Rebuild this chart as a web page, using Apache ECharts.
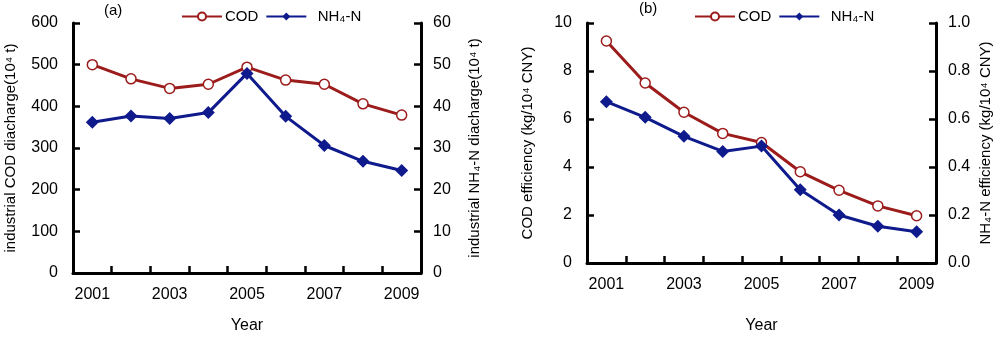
<!DOCTYPE html>
<html>
<head>
<meta charset="utf-8">
<script src="https://cdn.jsdelivr.net/npm/echarts@6/dist/echarts.min.js"></script>
<style>html,body{margin:0;padding:0;background:#fff}#c{width:1000px;height:339px}</style>
</head>
<body>
<div id="c"></div>
<script>
const years = ['2001','2002','2003','2004','2005','2006','2007','2008','2009'];
const codDischarge = [500, 466, 443, 453, 494, 463, 453, 406, 379];
const nh4Discharge = [36.2, 37.7, 37.1, 38.5, 47.9, 37.6, 30.6, 26.8, 24.6];
const codEfficiency = [9.25, 7.5, 6.28, 5.4, 5.02, 3.8, 3.03, 2.38, 1.97];
const nh4Efficiency = [0.672, 0.607, 0.528, 0.465, 0.487, 0.305, 0.2, 0.153, 0.13];
const leftTicksA = [0, 100, 200, 300, 400, 500, 600];
const rightTicksA = [0, 10, 20, 30, 40, 50, 60];
const leftTicksB = [0, 2, 4, 6, 8, 10];
const rightTicksB = [0, 0.2, 0.4, 0.6, 0.8, 1.0];

const RED = '#9c1c1c', BLUE = '#0f1a8c';
const FONT = 'Liberation Sans, Arial, sans-serif';
const chart = echarts.init(document.getElementById('c'));

function xAxis(gridIndex, nameGap) {
  return {
    type: 'category', gridIndex, data: years, boundaryGap: true,
    name: 'Year', nameLocation: 'middle', nameGap,
    nameTextStyle: {fontFamily: FONT, fontSize: 16, color: '#000'},
    axisLine: {show: true, lineStyle: {color: '#000', width: 3}},
    axisTick: {show: true, inside: true, length: 7, lineStyle: {width: 2.5, color: '#000'}, alignWithLabel: false, interval: 0},
    axisLabel: {interval: 1, margin: 14, fontFamily: FONT, fontSize: 16, color: '#000'},
    splitLine: {show: false}
  };
}
function yAxis(gridIndex, position, ticks, name, nameGap, margin, fmt) {
  return {
    type: 'value', gridIndex, position,
    min: ticks[0], max: ticks[ticks.length - 1], interval: ticks[1] - ticks[0],
    name, nameLocation: 'middle', nameGap, nameRotate: 90,
    nameTextStyle: {fontFamily: FONT, fontSize: 15, color: '#000'},
    axisLine: {show: true, lineStyle: {color: '#000', width: 3}},
    axisTick: {show: true, inside: true, length: 7, lineStyle: {width: 2.5, color: '#000'}},
    axisLabel: {margin, fontFamily: FONT, fontSize: 16, color: '#000', formatter: fmt},
    splitLine: {show: false}
  };
}
function codSeries(x, y, data) {
  return {
    name: 'COD', type: 'line', xAxisIndex: x, yAxisIndex: y, data,
    symbol: 'circle', symbolSize: 10,
    lineStyle: {color: RED, width: 3},
    itemStyle: {color: '#fff', borderColor: RED, borderWidth: 1.5},
    emphasis: {disabled: true}
  };
}
function nhSeries(x, y, data) {
  return {
    name: 'NH₄-N', type: 'line', xAxisIndex: x, yAxisIndex: y, data,
    symbol: 'diamond', symbolSize: 13,
    lineStyle: {color: BLUE, width: 3},
    itemStyle: {color: BLUE},
    emphasis: {disabled: true}
  };
}
function legend(left) {
  return {
    left, top: 4, itemWidth: 40, itemHeight: 10, itemGap: 7,
    data: ['COD', 'NH₄-N'],
    formatter: n => n === 'COD' ? 'COD' : '  NH₄-N',
    textStyle: {fontFamily: FONT, fontSize: 15, color: '#000', padding: [0, 0, 0, -2]},
    selectedMode: false
  };
}

chart.setOption({
  animation: false,
  backgroundColor: '#fff',
  grid: [
    {left: 73, right: 579, top: 23, bottom: 53},
    {left: 587, right: 64, top: 23, bottom: 63}
  ],
  legend: [legend(176), legend(689)],
  xAxis: [xAxis(0, 45), xAxis(1, 55)],
  yAxis: [
    yAxis(0, 'left', leftTicksA, 'industrial COD diacharge(10⁴ t)', 55, 15),
    yAxis(0, 'right', rightTicksA, 'industrial NH₄-N diacharge(10⁴ t)', 46, 12),
    yAxis(1, 'left', leftTicksB, 'COD efficiency (kg/10⁴ CNY)', 52, 15),
    yAxis(1, 'right', rightTicksB, 'NH₄-N efficiency (kg/10⁴ CNY)', 42, 12, v => v.toFixed(1))
  ],
  series: [
    codSeries(0, 0, codDischarge),
    nhSeries(0, 1, nh4Discharge),
    codSeries(1, 2, codEfficiency),
    nhSeries(1, 3, nh4Efficiency)
  ],
  graphic: [
    {type: 'text', left: 104, top: 3, style: {text: '(a)', font: '15px ' + FONT, fill: '#000'}},
    {type: 'text', left: 639, top: 1, style: {text: '(b)', font: '15px ' + FONT, fill: '#000'}}
  ]
});
</script>
</body>
</html>
